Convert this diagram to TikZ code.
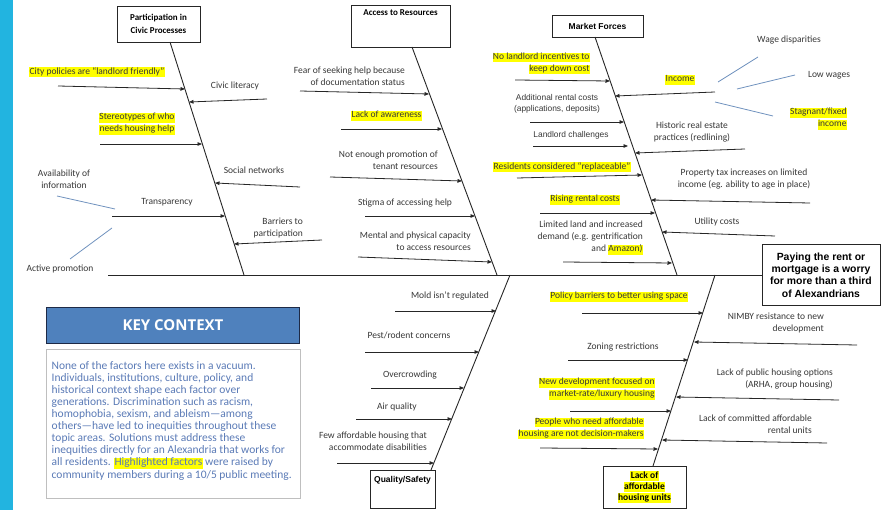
\documentclass[tikz,border=0pt]{standalone}
\usepackage{fontspec}
\setmainfont{Carlito}
\newfontfamily\arialfont{Liberation Sans}
\newfontfamily\headfont{Open Sans}
\usepackage{xcolor}
\usetikzlibrary{positioning,arrows.meta}

\definecolor{stripblue}{RGB}{34,180,224}
\definecolor{headblue}{RGB}{79,129,189}
\definecolor{headline}{RGB}{30,42,70}
\definecolor{ctxtext}{RGB}{90,122,182}
\definecolor{subblue}{RGB}{112,146,190}
\definecolor{hlyellow}{RGB}{255,255,0}
\definecolor{txtgray}{RGB}{55,55,55}

% yellow marker behind one line of text
\newcommand{\hlt}[1]{{\setlength{\fboxsep}{0.3pt}\colorbox{hlyellow}{\rule[-2.6pt]{0pt}{9pt}#1}}}

\begin{document}
\begin{tikzpicture}[x=1pt, y=-1pt,
    cause/.style={text=txtgray, font=\fontsize{9.5}{12}\selectfont, align=center, inner sep=0pt},
    causeA/.style={cause, font=\arialfont\fontsize{8.4}{10.5}\selectfont},
    catbox/.style={draw=black!85, line width=0.8pt, align=center, inner sep=0pt, text=black, font=\bfseries\fontsize{9}{12.5}\selectfont},
    catlabel/.style={anchor=north, inner sep=0pt, text=black, font=\bfseries\fontsize{9}{12}\selectfont},
    arrow/.style={-{Triangle[length=4.5pt,width=3.6pt]}, draw=black!85, line width=0.8pt},
    bone/.style={draw=black!85, line width=0.9pt},
    subline/.style={draw=subblue, line width=0.8pt}
]
\useasboundingbox (0,0) rectangle (889,510);
\fill[stripblue] (0,0) rectangle (13,510);

% effect and spine
\node[draw=black!85, line width=0.9pt, minimum width=118, minimum height=61, align=center, inner sep=0pt,
      font=\arialfont\bfseries\fontsize{10.4}{12.3}\selectfont] (effect) at (821,275)
      {Paying the rent or\\mortgage is a worry\\for more than a third\\of Alexandrians};
\coordinate (tail) at (108,275);
\draw[bone] (tail) -- (effect.west);

% category boxes
\node[catbox, minimum width=83, minimum height=36] (civic) at (158.5,24) {Participation in\\Civic Processes};
\node[catbox, minimum width=99, minimum height=42, label={[catlabel, yshift=-5pt]north:Access to Resources}] (access) at (400.5,26) {};
\node[catbox, minimum width=91, minimum height=22, font=\arialfont\bfseries\fontsize{8.5}{10}\selectfont] (market) at (597.5,26) {Market Forces};
\node[catbox, minimum width=65, minimum height=38, label={[catlabel, yshift=-7pt, font=\arialfont\bfseries\fontsize{8.5}{10}\selectfont]north:Quality/Safety}] (quality) at (402.5,489) {};
\node[catbox, minimum width=83, minimum height=42, font=\bfseries\fontsize{9.5}{11}\selectfont] (supply) at (644.5,487) {\hlt{Lack of}\\\hlt{affordable}\\\hlt{housing units}};

% bones
\coordinate (civicT) at (170,42);    \coordinate (civicB) at (244,275);
\coordinate (accessT) at (412,47);   \coordinate (accessB) at (497,275);
\coordinate (marketT) at (595,37);   \coordinate (marketB) at (677,275);
\coordinate (qualityT) at (431,470); \coordinate (qualityB) at (510,275);
\coordinate (supplyT) at (653,466);  \coordinate (supplyB) at (715,275);
\draw[bone] (civicT) -- (civicB);
\draw[bone] (accessT) -- (accessB);
\draw[bone] (marketT) -- (marketB);
\draw[bone] (qualityT) -- (qualityB);
\draw[bone] (supplyT) -- (supplyB);

% participation in civic processes
\node[cause] (citypol) at (97,72) {\hlt{City policies are ``landlord friendly''}};
\node[cause] (civlit) at (235,86) {Civic literacy};
\node[cause] (stereo) at (137,124) {\hlt{Stereotypes of who}\\\hlt{needs housing help}};
\node[cause] (socnet) at (254,170) {Social networks};
\node[cause] (avail) at (64,179.5) {Availability of\\information};
\node[cause] (transp) at (167,202) {Transparency};
\node[cause] (activep) at (60,269) {Active promotion};
\node[cause, align=right, anchor=east] (barriers) at (303,228) {Barriers to\\participation};
\coordinate (citypol-a) at (58,86);   \coordinate (citypol-b) at (185,89);
\coordinate (civlit-a) at (267,99);   \coordinate (civlit-b) at (189,102);
\coordinate (stereo-a) at (100,144);  \coordinate (stereo-b) at (202,144);
\coordinate (socnet-a) at (300,187);  \coordinate (socnet-b) at (215,183);
\coordinate (transp-a) at (112,216);  \coordinate (transp-b) at (225,216);
\coordinate (barriers-a) at (322,240); \coordinate (barriers-b) at (234,244);
\coordinate (avail-a) at (57,196);    \coordinate (avail-b) at (115,209);
\coordinate (activep-a) at (70,259);  \coordinate (activep-b) at (112,228);
\draw[arrow] (citypol-a) -- (citypol-b); \draw[arrow] (civlit-a) -- (civlit-b);
\draw[arrow] (stereo-a) -- (stereo-b);   \draw[arrow] (socnet-a) -- (socnet-b);
\draw[arrow] (transp-a) -- (transp-b);   \draw[arrow] (barriers-a) -- (barriers-b);
\draw[subline] (avail-a) -- (avail-b);   \draw[subline] (activep-a) -- (activep-b);

% access to resources
\node[cause, align=right, anchor=east] (fear) at (405,76.5) {Fear of seeking help because\\of documentation status};
\node[cause] (aware) at (386.5,116) {\hlt{Lack of awareness}};
\node[cause, align=right, anchor=east] (promo) at (438,160) {Not enough promotion of\\tenant resources};
\node[cause] (stigma) at (405,203) {Stigma of accessing help};
\node[cause, align=right, anchor=east] (capacity) at (471,241) {Mental and physical capacity\\to access resources};
\coordinate (fear-a) at (300,91);     \coordinate (fear-b) at (429,94);
\coordinate (aware-a) at (341,129);   \coordinate (aware-b) at (442,129);
\coordinate (promo-a) at (330,177);   \coordinate (promo-b) at (462,181);
\coordinate (stigma-a) at (365,216);  \coordinate (stigma-b) at (475,216);
\coordinate (capacity-a) at (358,257); \coordinate (capacity-b) at (492,262);
\draw[arrow] (fear-a) -- (fear-b);     \draw[arrow] (aware-a) -- (aware-b);
\draw[arrow] (promo-a) -- (promo-b);   \draw[arrow] (stigma-a) -- (stigma-b);
\draw[arrow] (capacity-a) -- (capacity-b);

% market forces
\node[cause, align=right, anchor=east] (nolandlord) at (590,63.5) {\hlt{No landlord incentives to}\\\hlt{keep down cost}};
\node[causeA] (addcost) at (557,104) {Additional rental costs\\(applications, deposits)};
\node[causeA] (llchall) at (571,135) {Landlord challenges};
\node[cause] (replace) at (562,167) {\hlt{Residents considered ``replaceable''}};
\node[cause] (rising) at (585,200) {\hlt{Rising rental costs}};
\node[cause, align=right, anchor=east] (limland) at (643,238) {Limited land and increased\\demand (e.g. gentrification\\and \hlt{Amazon)}};
\node[cause] (income) at (680,80) {\hlt{Income}};
\node[cause] (wage) at (789,40) {Wage disparities};
\node[cause] (lowwage) at (829,75) {Low wages};
\node[cause, align=right, anchor=east] (stagnant) at (847,119) {\hlt{Stagnant/fixed}\\\hlt{income}};
\node[cause] (redline) at (692,132.5) {Historic real estate\\practices (redlining)};
\node[cause] (proptax) at (744,179) {Property tax increases on limited\\income (eg. ability to age in place)};
\node[cause] (utility) at (717,222) {Utility costs};
\coordinate (nolandlord-a) at (515,80); \coordinate (nolandlord-b) at (610,81);
\coordinate (addcost-a) at (530,122);  \coordinate (addcost-b) at (624,122);
\coordinate (llchall-a) at (533,146);  \coordinate (llchall-b) at (628,146);
\coordinate (replace-a) at (517,178);  \coordinate (replace-b) at (642,175);
\coordinate (rising-a) at (540,213);   \coordinate (rising-b) at (655,213);
\coordinate (limland-a) at (563,262);  \coordinate (limland-b) at (672,263);
\coordinate (income-a) at (715,92);    \coordinate (income-b) at (615,96);
\coordinate (redline-a) at (745,149);  \coordinate (redline-b) at (635,153);
\coordinate (proptax-a) at (810,203);  \coordinate (proptax-b) at (651,200);
\coordinate (utility-a) at (775,236);  \coordinate (utility-b) at (662,232);
\coordinate (wage-a) at (758,57);      \coordinate (wage-b) at (718,82);
\coordinate (lowwage-a) at (795,75);   \coordinate (lowwage-b) at (737,89);
\coordinate (stagnant-a) at (715,102); \coordinate (stagnant-b) at (773,116);
\draw[arrow] (nolandlord-a) -- (nolandlord-b); \draw[arrow] (addcost-a) -- (addcost-b);
\draw[arrow] (llchall-a) -- (llchall-b);       \draw[arrow] (replace-a) -- (replace-b);
\draw[arrow] (rising-a) -- (rising-b);         \draw[arrow] (limland-a) -- (limland-b);
\draw[arrow] (income-a) -- (income-b);         \draw[arrow] (redline-a) -- (redline-b);
\draw[arrow] (proptax-a) -- (proptax-b);       \draw[arrow] (utility-a) -- (utility-b);
\draw[subline] (wage-a) -- (wage-b); \draw[subline] (lowwage-a) -- (lowwage-b); \draw[subline] (stagnant-a) -- (stagnant-b);

% quality/safety
\node[cause] (mold) at (450,296) {Mold isn't regulated};
\node[cause] (pest) at (409,335) {Pest/rodent concerns};
\node[cause] (crowd) at (410,375) {Overcrowding};
\node[cause] (air) at (397,407) {Air quality};
\node[cause, align=right, anchor=east] (disab) at (427,441) {Few affordable housing that\\accommodate disabilities};
\coordinate (mold-a) at (395,311);  \coordinate (mold-b) at (496,311);
\coordinate (pest-a) at (365,352);  \coordinate (pest-b) at (479,352);
\coordinate (crowd-a) at (371,388); \coordinate (crowd-b) at (464,388);
\coordinate (air-a) at (356,419);   \coordinate (air-b) at (452,419);
\coordinate (disab-a) at (337,463); \coordinate (disab-b) at (434,463);
\draw[arrow] (mold-a) -- (mold-b);   \draw[arrow] (pest-a) -- (pest-b);
\draw[arrow] (crowd-a) -- (crowd-b); \draw[arrow] (air-a) -- (air-b);
\draw[arrow] (disab-a) -- (disab-b);

% lack of affordable housing units
\node[cause] (policy) at (619,297) {\hlt{Policy barriers to better using space}};
\node[cause] (zoning) at (623,347) {Zoning restrictions};
\node[cause, align=right, anchor=east] (newdev) at (655,389) {\hlt{New development focused on}\\\hlt{market-rate/luxury housing}};
\node[cause, align=right, anchor=east] (decide) at (644,428.5) {\hlt{People who need affordable}\\\hlt{housing are not decision-makers}};
\node[cause, align=right, anchor=east] (nimby) at (824,323) {NIMBY resistance to new\\development};
\node[cause, align=right, anchor=east] (pubhouse) at (833,379.5) {Lack of public housing options\\(ARHA, group housing)};
\node[cause, align=right, anchor=east] (committed) at (812,424) {Lack of committed affordable\\rental units};
\coordinate (policy-a) at (582,313);    \coordinate (policy-b) at (703,313);
\coordinate (zoning-a) at (568,360);    \coordinate (zoning-b) at (688,360);
\coordinate (newdev-a) at (570,411);    \coordinate (newdev-b) at (671,411);
\coordinate (decide-a) at (540,448);    \coordinate (decide-b) at (658,449);
\coordinate (nimby-a) at (857,345);     \coordinate (nimby-b) at (694,342);
\coordinate (pubhouse-a) at (839,400);  \coordinate (pubhouse-b) at (676,397);
\coordinate (committed-a) at (827,443); \coordinate (committed-b) at (662,440);
\draw[arrow] (policy-a) -- (policy-b);     \draw[arrow] (zoning-a) -- (zoning-b);
\draw[arrow] (newdev-a) -- (newdev-b);     \draw[arrow] (decide-a) -- (decide-b);
\draw[arrow] (nimby-a) -- (nimby-b);       \draw[arrow] (pubhouse-a) -- (pubhouse-b);
\draw[arrow] (committed-a) -- (committed-b);

% key context panel
\node[draw=headline, line width=1.6pt, fill=headblue, minimum width=253, minimum height=36, inner sep=0pt,
      text=white, font=\headfont\bfseries\fontsize{15}{18}\selectfont] (keyhead) at (173,325.5) {KEY CONTEXT};
\node[draw=black!25, line width=0.6pt, minimum width=254, minimum height=149, inner sep=0pt] (keybox) at (173,423.5) {};
\node[anchor=north west, text=ctxtext, align=left, inner sep=0pt, font=\fontsize{11.5}{12.1}\selectfont] (keytext) at (51.5,361)
  {None of the factors here exists in a vacuum.\\
   Individuals, institutions, culture, policy, and\\
   historical context shape each factor over\\
   generations. Discrimination such as racism,\\
   homophobia, sexism, and ableism---among\\
   others---have led to inequities throughout these\\
   topic areas. Solutions must address these\\
   inequities directly for an Alexandria that works for\\
   all residents. \hlt{Highlighted factors} were raised by\\
   community members during a 10/5 public meeting.};
\end{tikzpicture}
\end{document}
